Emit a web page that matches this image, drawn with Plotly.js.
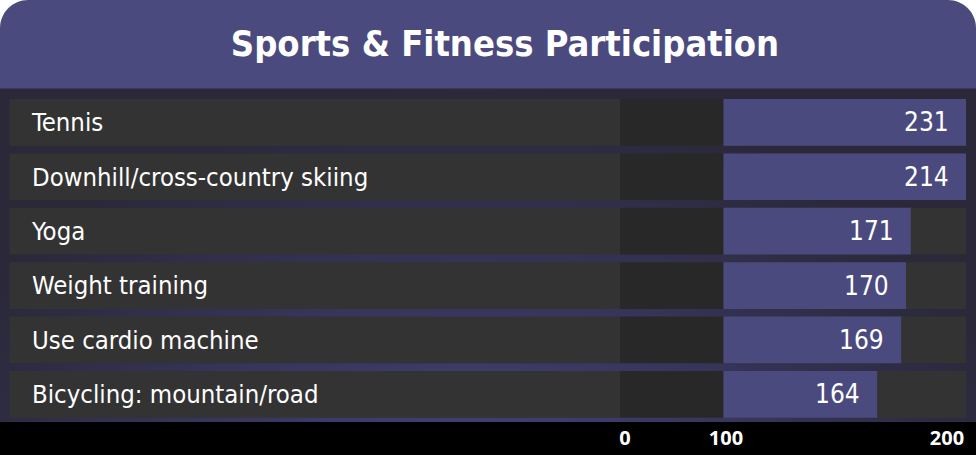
<!DOCTYPE html>
<html>
<head>
<meta charset="utf-8">
<script src="https://cdn.plot.ly/plotly-3.0.1.min.js"></script>
<style>
  html, body { margin: 0; padding: 0; background: #ffffff; }
  #chart {
    width: 976px; height: 455px;
    background:
      radial-gradient(ellipse 560px 430px at 470px 430px, #47457c 0%, #393760 45%, #2a2839 100%) 0 88px / 976px 334px no-repeat,
      #ffffff;
  }
</style>
</head>
<body>
<div id="chart"></div>
<script>
// ---- data ----
const categories = [
  "Tennis",
  "Downhill/cross-country skiing",
  "Yoga",
  "Weight training",
  "Use cardio machine",
  "Bicycling: mountain/road"
];
const participation = [231, 214, 171, 170, 169, 164];
const axisTickLabels = ["0", "100", "200"];

// ---- layout constants (pixels on a 976x455 canvas) ----
const W = 976, H = 455;
const px = v => v / W;
const py = v => 1 - v / H;
const NARROW = "Liberation Sans Narrow, DejaVu Sans Condensed, sans-serif";
const PURPLE = "#4b4a7e";
const half = 0.429;
const XMIN = 132, XMAX = 182.5;

const shapes = [];
// title band with rounded top corners
const rx = px(28), ry = 28 / H, yb = py(88.5);
shapes.push({
  type: "path", xref: "paper", yref: "paper", layer: "below",
  path: `M 0,${yb} L 0,${1 - ry} C 0,${1 - ry * 0.45} ${rx * 0.45},1 ${rx},1 L ${1 - rx},1 C ${1 - rx * 0.45},1 1,${1 - ry * 0.45} 1,${1 - ry} L 1,${yb} Z`,
  fillcolor: PURPLE, line: { width: 0 }
});
// bottom black axis strip
shapes.push({
  type: "rect", xref: "paper", yref: "paper", layer: "below",
  x0: 0, x1: 1, y0: 0, y1: py(422),
  fillcolor: "#000000", line: { width: 0 }
});
// row panels
categories.forEach((c, i) => {
  shapes.push({ type: "rect", xref: "paper", yref: "y", layer: "below",
    x0: px(9.5), x1: px(620), y0: i - half, y1: i + half,
    fillcolor: "#333333", line: { width: 0 } });
  shapes.push({ type: "rect", xref: "paper", yref: "y", layer: "below",
    x0: px(620), x1: px(723.5), y0: i - half, y1: i + half,
    fillcolor: "#282828", line: { width: 0 } });
  shapes.push({ type: "rect", xref: "paper", yref: "y", layer: "below",
    x0: px(723.5), x1: px(966), y0: i - half, y1: i + half,
    fillcolor: "#333333", line: { width: 0 } });
});

// value labels, kept inside the visible part of each bar
const annotations = participation.map((v, i) => ({
  xref: "x", yref: "y",
  x: Math.min(v, XMAX), y: categories[i],
  text: String(v),
  showarrow: false,
  xanchor: "right", yanchor: "middle",
  xshift: -15,
  font: { family: NARROW, size: 26, color: "#ffffff" }
}));

const data = [{
  type: "bar",
  orientation: "h",
  y: categories,
  x: participation,
  xaxis: "x",
  yaxis: "y",
  marker: { color: PURPLE, line: { width: 0 } },
  cliponaxis: true,
  hoverinfo: "none"
}, {
  type: "scatter",
  x: [], y: [],
  xaxis: "x3", yaxis: "y3",
  mode: "markers",
  hoverinfo: "none"
}];

const layout = {
  width: W, height: H,
  margin: { l: 0, r: 0, t: 0, b: 0, pad: 0 },
  paper_bgcolor: "rgba(0,0,0,0)",
  plot_bgcolor: "rgba(0,0,0,0)",
  showlegend: false,
  bargap: 0.142,
  title: {
    text: "Sports & Fitness Participation",
    font: { family: NARROW, size: 36, color: "#ffffff", weight: "bold" },
    x: px(505), xanchor: "center", xref: "paper",
    y: py(43), yanchor: "middle", yref: "paper"
  },
  xaxis: {
    domain: [px(723.5), px(966)],
    range: [XMIN, XMAX],
    visible: false, fixedrange: true
  },
  yaxis: {
    domain: [py(421.55), py(95.15)],
    type: "category",
    autorange: "reversed",
    anchor: "free",
    position: px(28),
    side: "left",
    ticklabelposition: "inside",
    ticklabeloverflow: "allow",
    ticks: "", showline: false, showgrid: false, zeroline: false,
    tickfont: { family: NARROW, size: 25.5, color: "#ffffff" },
    fixedrange: true
  },
  xaxis3: {
    domain: [0, 1],
    anchor: "y3",
    range: [0, W],
    tickmode: "array",
    tickvals: [625, 726, 947],
    ticktext: axisTickLabels,
    ticks: "", showline: false, showgrid: false, zeroline: false,
    tickfont: { family: "Open Sans, sans-serif", size: 20, color: "#ffffff", weight: "bold" },
    fixedrange: true
  },
  yaxis3: {
    domain: [py(423.5), 1],
    anchor: "x3",
    range: [0, 1],
    visible: false, fixedrange: true
  },
  annotations: annotations,
  shapes: shapes
};

Plotly.newPlot("chart", data, layout, { staticPlot: true, displayModeBar: false });
</script>
</body>
</html>
